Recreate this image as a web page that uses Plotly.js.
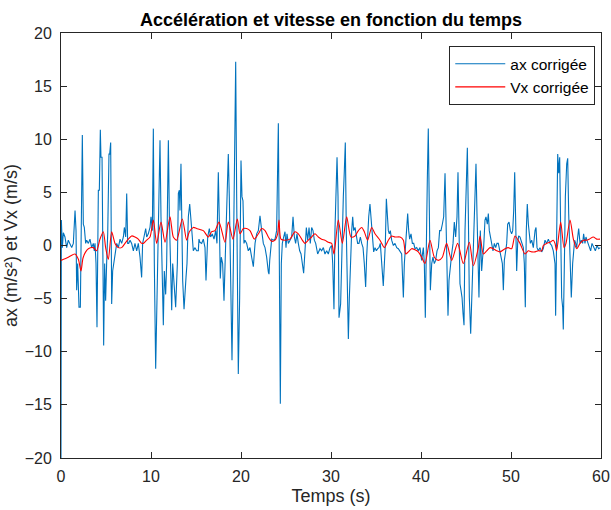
<!DOCTYPE html>
<html>
<head>
<meta charset="utf-8">
<script src="https://cdn.plot.ly/plotly-3.0.1.min.js"></script>
<style>html,body{margin:0;padding:0;background:#fff;}#chart{width:611px;height:510px;}</style>
</head>
<body>
<div id="chart"></div>
<script>
// Acceleration (ax corrigée) — time (s) and values (m/s²)
const tAx = [
  0,0.04,0.15,0.26,0.44,0.63,0.81,1.0,1.19,1.37,1.56,1.67,1.74,1.85,2.0,2.15,2.22,2.37,2.48,2.59,2.74,2.85,3.04,3.22,3.41,3.59,3.70,3.78,3.89,4.0,4.15,4.26,4.37,4.44,4.56,4.63,4.74,4.85,4.96,5.07,5.19,5.33,5.41,5.52,5.63,5.74,5.85,6.0,6.19,6.37,6.56,6.74,6.93,7.04,7.19,7.30,7.41,
  7.52,7.67,7.85,8.04,8.22,8.41,8.59,8.78,8.96,9.07,9.22,9.41,9.52,9.70,9.89,10.0,10.15,10.26,10.37,10.52,10.67,10.81,11.0,11.11,11.26,11.37,11.48,11.63,11.74,11.93,12.04,12.19,12.30,12.41,12.59,12.74,12.93,13.04,13.15,13.22,13.33,13.41,13.52,13.67,13.78,13.89,14.0,14.15,14.30,14.44,14.59,14.70,14.89,15.07,15.26,
  15.33,15.44,15.63,15.81,16.0,16.11,16.30,16.48,16.63,16.81,17.0,17.19,17.33,17.48,17.59,17.70,17.81,17.96,18.11,18.22,18.41,18.59,18.70,18.85,19.0,19.15,19.26,19.41,19.52,19.59,19.70,19.85,20.0,20.11,20.22,20.33,20.44,20.63,20.81,21.0,21.19,21.37,21.56,21.74,21.93,22.11,22.30,22.48,22.67,22.85,23.04,
  23.11,23.19,23.30,23.41,23.59,23.78,23.96,24.15,24.26,24.37,24.48,24.59,24.74,24.89,25.0,25.11,25.26,25.44,25.63,25.78,25.93,26.07,26.22,26.37,26.52,26.67,26.81,26.96,27.11,27.26,27.41,27.56,27.70,27.85,28.0,28.15,28.30,28.52,28.78,28.96,29.15,29.33,29.52,29.70,29.89,30.07,30.19,30.33,30.44,30.56,30.67,30.78,30.89,
  31.07,31.19,31.26,31.37,31.48,31.59,31.70,31.81,31.93,32.04,32.15,32.30,32.41,32.52,32.67,32.81,32.96,33.11,33.26,33.41,33.56,33.70,33.85,33.96,34.07,34.19,34.33,34.44,34.59,34.74,34.89,35.04,35.19,35.33,35.48,35.63,35.81,35.93,36.04,36.15,36.26,36.37,36.48,36.59,36.74,36.93,37.11,37.30,37.48,37.67,37.85,38.04,38.15,38.30,38.52,
  38.63,38.74,38.89,39.04,39.19,39.33,39.52,39.70,39.89,40.07,40.26,40.37,40.48,40.59,40.70,40.81,40.93,41.04,41.19,41.33,41.48,41.63,41.78,41.93,42.07,42.22,42.37,42.52,42.67,42.78,42.89,43.0,43.11,43.26,43.41,43.56,43.70,43.85,44.0,44.11,44.22,44.33,44.44,44.56,44.67,44.78,44.89,45.0,45.15,45.26,45.37,45.52,45.63,45.74,45.89,46.0,46.11,46.22,46.33,46.44,
  46.59,46.74,46.85,46.96,47.11,47.22,47.37,47.48,47.59,47.74,47.85,48.0,48.15,48.30,48.44,48.59,48.74,48.89,49.04,49.15,49.26,49.41,49.52,49.63,49.78,49.93,50.07,50.19,50.30,50.41,50.52,50.63,50.74,50.85,51.0,51.19,51.37,51.48,51.59,51.70,51.81,51.93,52.04,52.15,52.30,52.48,52.67,52.78,52.89,53.04,53.22,53.41,
  53.59,53.78,53.96,54.15,54.33,54.52,54.70,54.89,54.96,55.07,55.19,55.30,55.41,55.52,55.63,55.74,55.81,55.93,56.04,56.19,56.30,56.41,56.56,56.70,56.85,56.96,57.07,57.19,57.30,57.41,57.52,57.67,57.81,57.96,58.07,58.22,58.33,58.44,58.56,58.70,58.85,59.0,59.19,59.37,59.56,59.74,59.93
];
const ax = [
  -20,2.4,-0.2,1.2,0.8,-0.2,0.5,0.2,-0.2,0.2,3.3,1.4,-4.2,-1.7,-5.8,-5.8,1.4,10.4,2.0,1.7,0.2,0.5,0.2,0.6,-0.2,0.2,-0.5,0.2,-1.7,-7.7,5.2,5.2,10.9,8.3,8.3,1.4,-9.4,-1.7,-5.2,-1.7,1.1,8.6,8.6,9.7,-5.5,-2.4,-1.7,-0.8,0.2,-0.2,0.6,0.2,0.8,1.7,0.8,4.9,0.2,
  0.2,0.5,0.2,-0.5,0.2,-0.5,0.2,-1.1,-3.0,0.2,0.8,1.6,0.8,1.1,1.7,2.7,1.4,11.0,-1.7,-11.6,-4.9,2.7,9.9,2.7,-2.4,-7.5,-2.4,-4.6,-1.7,9.9,2.7,-1.7,-6.1,-1.7,-3.6,-5.8,-1.7,4.9,5.2,3.3,7.7,1.4,-3.3,-6.0,-3.6,-3.0,-1.7,2.7,3.9,2.7,0.8,-0.5,-0.2,-0.5,-0.5,
  0.6,0.3,0.2,0.6,-0.2,-3.3,0.8,1.6,0.8,1.1,0.6,1.4,0.2,6.9,2.4,-3.1,-1.1,-1.7,-5.2,-1.7,2.7,8.6,4.6,-3.3,-10.8,-1.7,4.6,17.3,4.6,-4.9,-12.1,-4.9,8.0,4.6,4.2,0.2,0.5,0.2,-0.5,-0.2,-1.1,-2.0,0.2,1.1,1.4,2.8,1.4,0.2,-0.2,-1.1,-2.5,
  -2.7,-1.4,0.2,0.6,0.5,0.6,1.4,11.5,-1.7,-14.9,-1.7,0.2,0.8,1.3,-0.2,1.1,0.2,0.5,0.8,2.7,0.8,0.2,1.1,0.2,-0.5,-0.8,-1.7,-2.6,-0.5,1.7,0.5,1.7,0.2,1.7,1.4,0.5,0.2,-0.8,-0.3,-0.5,-0.2,-0.8,-0.5,-0.8,-0.2,0.0,-1.7,-6.0,1.4,6.1,8.3,4.6,-6.8,
  -5.5,-1.7,3.0,4.6,7.0,9.7,1.4,-4.9,-8.8,-4.9,-1.7,1.4,2.7,1.4,1.7,0.8,0.2,0.2,0.8,0.2,-0.2,-1.7,-3.9,-1.1,1.4,2.7,3.9,2.7,0.8,-0.6,-0.2,-0.5,-0.3,-0.2,0.2,-1.7,-3.8,-1.7,0.2,4.4,2.7,1.4,1.1,1.4,0.5,0.0,0.2,-0.2,-0.3,-0.5,-0.8,-4.9,-1.7,0.2,3.0,
  1.4,0.6,1.1,0.2,0.2,-0.3,-0.2,-0.5,-0.2,-1.4,-0.2,-1.7,-6.8,1.4,6.1,11.0,4.6,-4.2,-1.7,-1.1,-1.7,-1.4,-0.5,-0.2,1.4,1.4,2.0,2.7,6.8,1.4,-2.4,-6.6,-3.3,-1.7,-0.8,0.2,2.2,0.8,2.7,6.9,3.0,-3.6,-4.2,-4.9,-6.4,-7.5,1.4,5.8,9.2,3.0,-4.9,-8.3,-4.9,-1.7,1.4,5.2,7.7,3.0,-1.7,-4.9,
  1.4,-2.4,-1.1,-0.2,2.4,2.7,2.0,3.0,1.4,0.5,0.2,-0.5,0.2,-0.2,0.2,0.2,-0.5,-1.1,-1.7,-4.2,-1.4,-0.5,0.2,2.0,2.2,1.4,1.1,1.4,3.3,6.9,1.4,-2.4,0.2,0.9,0.8,0.2,-0.2,-1.7,-5.8,1.4,3.9,2.0,1.1,0.2,0.5,-0.2,1.4,1.7,-0.2,-0.5,-0.2,-0.6,
  -0.3,0.5,0.2,0.6,0.2,0.0,-0.5,-1.7,-6.6,1.4,8.6,6.8,8.3,1.4,-4.9,-5.8,-7.9,-1.7,4.6,7.7,8.2,3.0,-2.4,-4.9,-1.7,-0.2,0.5,0.2,-0.2,0.8,1.6,0.2,0.5,0.2,1.1,0.2,0.8,0.5,0.2,-0.2,-0.5,0.2,-0.2,-0.5,0.0,-0.3,-0.2
];

// Velocity (Vx corrigée) — time (s) and values (m/s)
const tVx = [
  0,0.81,1.56,1.93,2.22,2.44,2.74,3.04,3.59,3.96,4.33,4.70,4.96,5.26,5.63,6.0,6.37,6.74,7.11,
  7.48,7.85,8.22,8.59,8.96,9.15,9.52,9.89,10.26,10.63,11.11,11.56,12.11,12.48,12.85,13.48,13.96,14.26,14.70,15.07,
  15.81,16.37,16.74,17.11,17.56,18.22,18.59,19.11,19.59,19.89,20.26,20.63,21.0,21.48,21.93,22.30,22.67,23.04,
  23.41,23.78,24.07,24.22,24.44,24.89,25.44,26.0,26.37,26.74,27.11,27.48,27.85,28.22,28.59,28.96,29.33,29.70,30.07,30.33,
  30.81,31.26,31.74,32.22,32.67,33.04,33.41,33.70,34.07,34.52,34.89,35.44,35.93,36.37,36.74,37.11,37.67,38.04,38.30,
  38.59,38.96,39.33,39.70,40.07,40.44,41.0,41.48,41.93,42.37,42.85,43.41,44.07,44.70,45.37,45.81,46.37,
  46.56,46.93,47.30,47.67,48.04,48.41,48.78,49.33,49.70,50.07,50.44,51.0,51.56,51.93,52.30,52.67,53.04,53.41,
  53.59,53.96,54.33,54.70,54.89,55.07,55.52,55.89,56.11,56.56,56.93,57.30,57.67,58.04,58.41,58.70,59.15,59.52,59.89
];
const vx = [
  -1.4,-1.1,-0.8,-1.3,-2.4,-1.2,-0.6,-0.3,-0.2,-0.5,0.6,1.3,-0.2,-1.3,1.3,0.2,-0.2,-0.2,0.2,
  0.6,0.9,0.8,0.6,0.2,0.2,0.5,0.8,2.4,0.2,2.2,0.3,2.7,0.8,0.5,2.5,0.5,1.3,1.7,1.6,
  1.4,0.8,1.3,1.4,2.2,0.3,2.2,0.6,2.5,1.1,1.6,1.6,1.4,0.6,1.1,1.6,1.4,0.8,
  0.4,0.5,1.1,2.4,0.6,0.5,0.6,1.3,1.1,0.6,0.2,0.5,0.8,1.1,0.8,0.6,0.5,0.3,0.2,-0.8,
  2.4,0.2,2.7,0.8,0.9,1.4,1.7,1.3,0.5,1.7,1.1,0.5,-0.2,0.5,0.9,0.8,0.8,0.5,-0.8,
  -0.6,-0.3,-0.4,-0.6,-1.1,-1.7,0.5,-1.1,-1.4,-1.1,0.2,-1.4,0.2,-1.7,0.3,-1.9,-0.2,
  0.9,-0.8,-0.5,-0.2,-0.3,-0.5,-0.6,-0.3,-0.2,-0.3,0.9,0.2,-0.8,-0.5,-0.6,-0.6,-0.5,-0.5,
  0.0,0.2,0.3,0.5,0.2,-0.5,2.2,-0.2,0.2,2.4,0.6,-0.3,0.2,0.5,0.5,0.6,0.8,0.6,0.6
];

const seriesNames = ['ax corrigée', 'Vx corrigée'];
const xTicks = [0, 10, 20, 30, 40, 50, 60];
const yTicks = [-20, -15, -10, -5, 0, 5, 10, 15, 20];

const FONT = 'Liberation Sans, Arial, Helvetica, sans-serif';
const AXC = '#262626';

const traces = [
  { x: tAx, y: ax, name: seriesNames[0], type: 'scatter', mode: 'lines',
    line: { color: '#0072BD', width: 1.1 } },
  { x: tVx, y: vx, name: seriesNames[1], type: 'scatter', mode: 'lines',
    line: { color: '#FF0000', width: 1.1, shape: 'spline', smoothing: 0.7 } }
];

const axisCommon = {
  showline: true, linecolor: AXC, linewidth: 1, mirror: 'ticks',
  ticks: 'inside', ticklen: 6, tickcolor: AXC, tickwidth: 1,
  showgrid: false, zeroline: false,
  tickfont: { family: FONT, size: 16, color: AXC }
};

const layout = {
  width: 611, height: 510,
  margin: { l: 61, r: 10, t: 33, b: 52 },
  paper_bgcolor: '#ffffff', plot_bgcolor: '#ffffff',
  font: { family: FONT, color: AXC },
  title: { text: '<b>Accélération et vitesse en fonction du temps</b>',
    font: { family: FONT, size: 18, color: '#000000' },
    x: 0.5, xref: 'paper', xanchor: 'center', y: 0.962, yref: 'container', yanchor: 'middle' },
  xaxis: Object.assign({}, axisCommon, {
    range: [0, 60], tickmode: 'array', tickvals: xTicks, ticklabelstandoff: 4,
    title: { text: 'Temps (s)', font: { family: FONT, size: 18, color: AXC }, standoff: 5 }
  }),
  yaxis: Object.assign({}, axisCommon, {
    range: [-20, 20], tickmode: 'array', tickvals: yTicks, ticklabelstandoff: 5,
    title: { text: 'ax (m/s²) et Vx (m/s)', font: { family: FONT, size: 18, color: AXC }, standoff: 2 }
  }),
  showlegend: true,
  legend: { x: 0.719, y: 0.969, xanchor: 'left', yanchor: 'top',
    bgcolor: '#ffffff', bordercolor: AXC, borderwidth: 1,
    font: { family: FONT, size: 15.5, color: '#000000' },
    itemwidth: 50, tracegroupgap: 0 }
};

Plotly.newPlot('chart', traces, layout, { displayModeBar: false, staticPlot: true });
</script>
</body>
</html>
